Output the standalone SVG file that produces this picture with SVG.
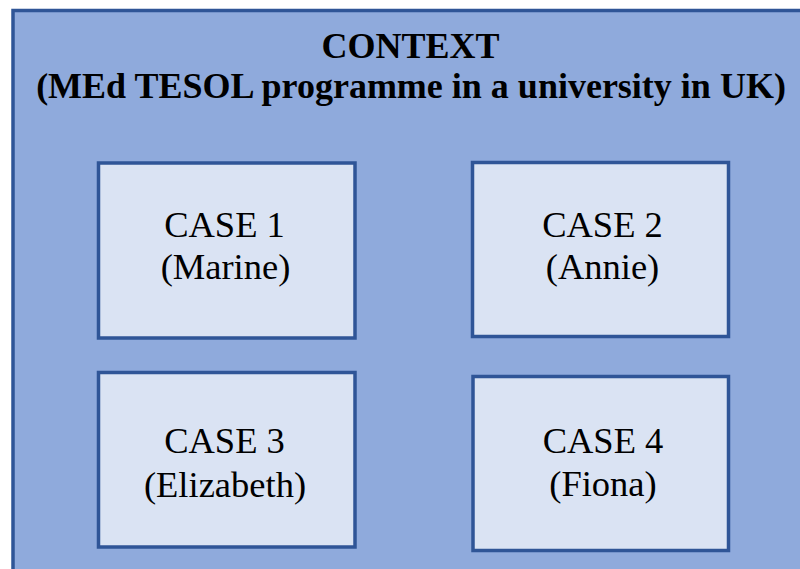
<svg xmlns="http://www.w3.org/2000/svg" width="800" height="569" viewBox="0 0 800 569">
<style>
.ctx{fill:#8FAADC;stroke:#2F5597;stroke-width:3.5}
.case{fill:#DAE3F3;stroke:#2F5597;stroke-width:3.5}
.title{font-family:"Liberation Serif","Times New Roman",serif;font-weight:bold;font-size:36px;fill:#000;text-anchor:middle}
.lbl{font-family:"Liberation Serif","Times New Roman",serif;font-size:36.5px;fill:#000;text-anchor:middle}
</style>
<rect width="800" height="569" fill="#FFFFFF"/>
<g id="context">
<rect class="ctx" x="13" y="10.5" width="800" height="570"/>
<text class="title" x="410.5" y="57.5">CONTEXT</text>
<text class="title" x="411" y="97.5">(MEd TESOL programme in a university in UK)</text>
</g>
<g id="case1">
<rect class="case" x="98.5" y="163" width="256.5" height="175"/>
<text class="lbl" x="224.5" y="237">CASE 1</text>
<text class="lbl" x="225.5" y="279">(Marine)</text>
</g>
<g id="case2">
<rect class="case" x="472.5" y="162.5" width="256" height="174"/>
<text class="lbl" x="602.5" y="237">CASE 2</text>
<text class="lbl" x="602.5" y="279">(Annie)</text>
</g>
<g id="case3">
<rect class="case" x="98.5" y="372.5" width="256.5" height="174.5"/>
<text class="lbl" x="224.5" y="453">CASE 3</text>
<text class="lbl" x="225" y="496.5">(Elizabeth)</text>
</g>
<g id="case4">
<rect class="case" x="473" y="376.5" width="255.5" height="174"/>
<text class="lbl" x="603" y="453">CASE 4</text>
<text class="lbl" x="603" y="496">(Fiona)</text>
</g>
<g id="connectors"></g>
</svg>
